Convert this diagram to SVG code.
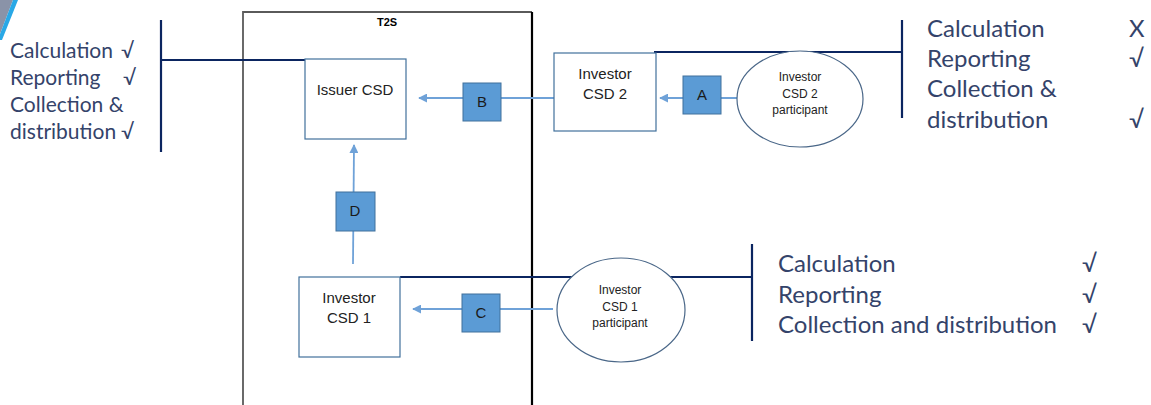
<svg xmlns="http://www.w3.org/2000/svg" width="1151" height="405" viewBox="0 0 1151 405">
<style>
.lbl{font-family:Lato,"Open Sans",sans-serif;fill:#34436a}
.box{fill:#fff;stroke:#41719c;stroke-width:1.2}
.sq{fill:#5b9bd5;stroke:#41719c;stroke-width:1}
.sqt{font-family:"Liberation Sans",Arial,sans-serif;font-size:15px;fill:#1a1a1a;text-anchor:middle}
.nt{font-family:"Liberation Sans",Arial,sans-serif;fill:#222;text-anchor:middle}
.bar{stroke:#0b2560;stroke-width:2.2;fill:none}
.con{stroke:#6fa2d8;stroke-width:1.8;fill:none}
.ell{fill:#fff;stroke:#4a6788;stroke-width:1.2}
</style>
<defs>
<marker id="ah" viewBox="0 0 10 10" refX="9" refY="5" markerWidth="5" markerHeight="5" orient="auto">
<path d="M0,0 L10,5 L0,10 z" fill="#6fa2d8"/>
</marker>
</defs>
<rect width="1151" height="405" fill="#fff"/>
<g id="corner">
<polygon points="0,0 13,0 0,34" fill="#8a93a8"/>
<polygon points="13,0 18,0 2,40 0,40 0,34" fill="#29a8e6"/>
</g>
<g id="t2s">
<path d="M243,405 V12 H532" fill="none" stroke="#5a5a5a" stroke-width="1.8"/>
<line x1="532" y1="12" x2="532" y2="405" stroke="#000" stroke-width="2.2"/>
<text x="387" y="26" font-family="'Liberation Sans',Arial,sans-serif" font-size="11" font-weight="bold" text-anchor="middle" fill="#000">T2S</text>
</g>
<g id="connectors">
<path class="bar" d="M161,20 V152 M161,60 H308"/>
<path class="bar" d="M654,52 H902 M902,20 V118"/>
<path class="bar" d="M400,277 H752 M752,244 V341"/>
<line class="con" x1="554" y1="98" x2="419" y2="98" marker-end="url(#ah)"/>
<line class="con" x1="737" y1="98" x2="660" y2="98" marker-end="url(#ah)"/>
<line class="con" x1="553" y1="309" x2="413" y2="309" marker-end="url(#ah)"/>
<line class="con" x1="353" y1="264" x2="354" y2="145" marker-end="url(#ah)"/>
</g>
<g id="issuer-csd">
<rect class="box" x="305" y="59" width="101" height="80"/>
<text class="nt" x="355" y="95" font-size="15">Issuer CSD</text>
</g>
<g id="investor-csd-2">
<rect class="box" x="554" y="53" width="102" height="78"/>
<text class="nt" x="605" y="79" font-size="15">Investor</text>
<text class="nt" x="605" y="99" font-size="15">CSD 2</text>
</g>
<g id="investor-csd-1">
<rect class="box" x="299" y="277" width="101" height="80"/>
<text class="nt" x="349" y="303" font-size="15">Investor</text>
<text class="nt" x="349" y="323" font-size="15">CSD 1</text>
</g>
<g id="participant-2">
<ellipse class="ell" cx="800" cy="99" rx="63" ry="48"/>
<text class="nt" x="800" y="81" font-size="12">Investor</text>
<text class="nt" x="800" y="98" font-size="12">CSD 2</text>
<text class="nt" x="800" y="114" font-size="12">participant</text>
</g>
<g id="participant-1">
<ellipse class="ell" cx="621" cy="310" rx="64" ry="52"/>
<text class="nt" x="620" y="294" font-size="12">Investor</text>
<text class="nt" x="620" y="311" font-size="12">CSD 1</text>
<text class="nt" x="620" y="327" font-size="12">participant</text>
</g>
<g id="box-a"><rect class="sq" x="683" y="76" width="38" height="38"/><text class="sqt" x="702" y="100">A</text></g>
<g id="box-b"><rect class="sq" x="463" y="83" width="38" height="38"/><text class="sqt" x="482" y="107">B</text></g>
<g id="box-c"><rect class="sq" x="462" y="294" width="38" height="38"/><text class="sqt" x="481" y="318">C</text></g>
<g id="box-d"><rect class="sq" x="336" y="192" width="39" height="39"/><text class="sqt" x="355" y="216">D</text></g>
<g id="issuer-status" class="lbl" font-size="21">
<text x="10" y="58">Calculation</text>
<text x="121" y="58">√</text>
<text x="10" y="85">Reporting</text>
<text x="123" y="85">√</text>
<text x="10" y="112">Collection &amp;</text>
<text x="10" y="139">distribution</text>
<text x="121" y="139">√</text>
</g>
<g id="csd2-status" class="lbl" font-size="24">
<text x="927" y="37">Calculation</text>
<text x="927" y="67">Reporting</text>
<text x="927" y="97">Collection &amp;</text>
<text x="927" y="128">distribution</text>
<text x="1129" y="37">X</text>
<text x="1129" y="67">√</text>
<text x="1129" y="128">√</text>
</g>
<g id="csd1-status" class="lbl" font-size="24">
<text x="778" y="272">Calculation</text>
<text x="778" y="303">Reporting</text>
<text x="778" y="333">Collection and distribution</text>
<text x="1082" y="272">√</text>
<text x="1082" y="303">√</text>
<text x="1082" y="333">√</text>
</g>
</svg>
